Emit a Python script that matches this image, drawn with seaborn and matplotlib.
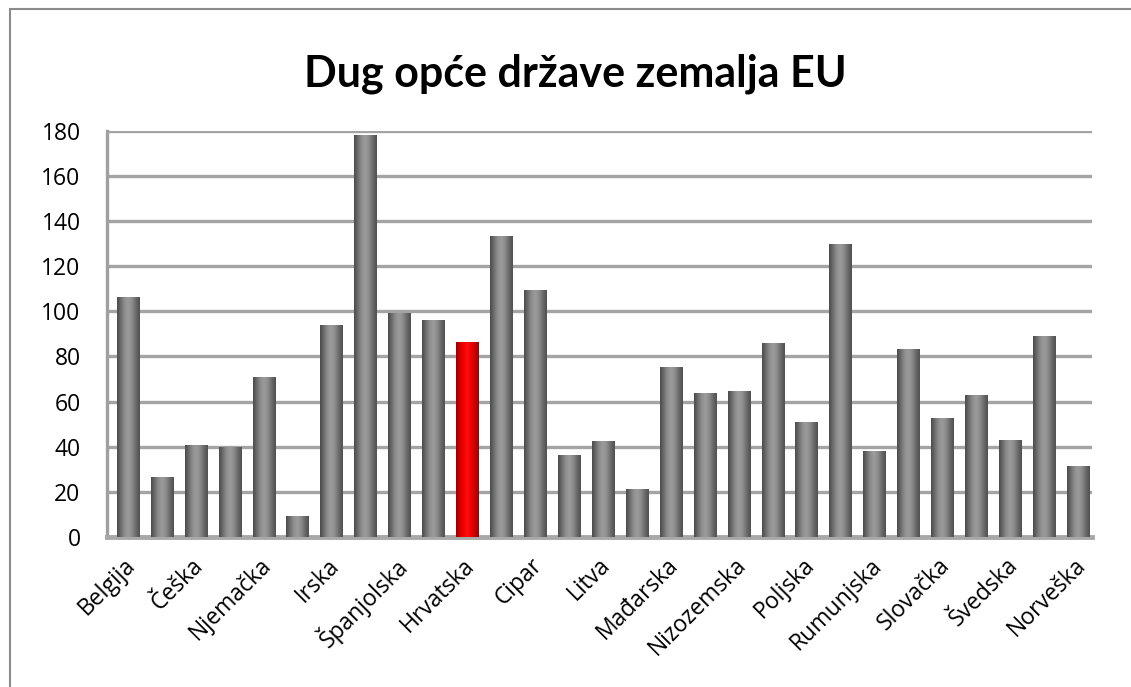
import numpy as np
import matplotlib
matplotlib.use("Agg")
import matplotlib.pyplot as plt
import matplotlib.transforms as mtrans
from matplotlib.colors import LinearSegmentedColormap
from matplotlib.patches import Rectangle
import seaborn as sns

# ---- data ----
countries = ["Belgija", "Bugarska", "Češka", "Danska", "Njemačka", "Estonija", "Irska",
             "Grčka", "Španjolska", "Francuska", "Hrvatska", "Italija", "Cipar", "Latvija",
             "Litva", "Luksemburg", "Mađarska", "Malta", "Nizozemska", "Austrija", "Poljska",
             "Portugal", "Rumunjska", "Slovenija", "Slovačka", "Finska", "Švedska",
             "Ujedinjeno Kraljevstvo", "Norveška"]
debt = [106.1, 26.3, 40.7, 39.8, 70.8, 9.2, 93.7, 177.8, 99.2, 95.7, 86.3, 133.2, 109.0,
        36.1, 42.3, 21.1, 75.1, 63.6, 64.6, 85.9, 50.7, 129.4, 38.0, 82.9, 52.6, 62.8,
        42.9, 89.0, 31.2]
highlight = "Hrvatska"
title = "Dug opće države zemalja EU"
yticks = [0, 20, 40, 60, 80, 100, 120, 140, 160, 180]

sns.set_theme(style="white")
plt.rcParams["font.family"] = ["Open Sans", "DejaVu Sans"]

W, H = 1131, 687
fig = plt.figure(figsize=(W / 100, H / 100), dpi=100)
ax = fig.add_axes([107 / W, 1 - 537 / H, 985 / W, (537 - 130.7) / H])

palette = ["#ff0000" if c == highlight else "#808080" for c in countries]
sns.barplot(x=countries, y=debt, hue=countries, palette=palette, legend=False,
            width=0.66, ax=ax, zorder=3)

gray_cm = LinearSegmentedColormap.from_list(
    "g", ["#4a4a4a", "#6e6e6e", "#8f8f8f", "#9c9c9c", "#8a8a8a", "#6a6a6a", "#505050"])
red_cm = LinearSegmentedColormap.from_list(
    "r", ["#9a0000", "#d00000", "#f40000", "#ff1010", "#f00000", "#c80000", "#a00000"])
grad = np.linspace(0, 1, 64).reshape(1, -1)
for patch, c in zip(ax.patches, countries):
    x0, y0 = patch.get_x(), patch.get_y()
    w, h = patch.get_width(), patch.get_height()
    cm = red_cm if c == highlight else gray_cm
    ax.imshow(grad, extent=[x0, x0 + w, y0, y0 + h], aspect="auto", cmap=cm,
              zorder=3.5, interpolation="bicubic")
    patch.set_facecolor("none")
    patch.set_edgecolor("none")

ax.set_xlim(-0.62, 28.41)
ax.set_ylim(0, 180)
ax.set_yticks(yticks)
ax.set_yticklabels([str(v) for v in yticks])
ax.yaxis.grid(True, color="#a4a4a4", linewidth=2.4, zorder=0)
ax.xaxis.grid(False)
ax.set_axisbelow(True)

ax.set_xticks(range(len(countries)))
ax.set_xticklabels([c if i % 2 == 0 else "" for i, c in enumerate(countries)],
                   rotation=45, ha="right", va="center", rotation_mode="anchor")
ax.tick_params(axis="x", length=0, pad=18, labelsize=16.5, colors="black")
ax.tick_params(axis="y", length=0, pad=19, labelsize=16.5, colors="black")
shift = mtrans.ScaledTranslation(4 / 100, 0, fig.dpi_scale_trans)
for lab in ax.get_xticklabels():
    lab.set_transform(lab.get_transform() + shift)
ax.set_xlabel("")
ax.set_ylabel("")

for s in ["top", "right"]:
    ax.spines[s].set_visible(False)
ax.spines["left"].set_color("#a0a0a0")
ax.spines["left"].set_linewidth(2.4)
ax.spines["bottom"].set_color("#a8a8a8")
ax.spines["bottom"].set_linewidth(3.5)

fig.text(575 / W, 1 - 86 / H, title, ha="center", va="baseline",
         fontsize=31, fontweight="bold", color="black", family=["Lato", "DejaVu Sans"])

fig.patches.append(Rectangle((10 / W, -0.05), 1.2, 1 - 9 / H + 0.05,
                             transform=fig.transFigure, fill=False,
                             edgecolor="#8c8c8c", linewidth=1.5))

fig.savefig("out.png", dpi=100, facecolor="white")
